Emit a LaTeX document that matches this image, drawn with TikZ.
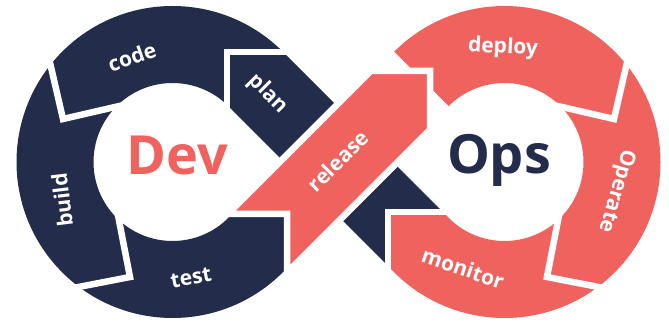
\documentclass[tikz,border=0pt]{standalone}
\usepackage{fontspec}
\setmainfont{Open Sans}
\usepackage{tikz}
\usetikzlibrary{calc}
\definecolor{navy}{HTML}{232C4A}
\definecolor{coral}{HTML}{F0625E}
\tikzset{
  gapline/.style={draw=white, line width=6.5pt, line join=miter},
  lbl/.style={text=white, font=\fontsize{21}{21}\selectfont\bfseries},
  big/.style={font=\fontsize{54}{54}\selectfont\bfseries}
}
\newcommand{\gapcut}[3]{ \draw[gapline] ($(#1)+(#2:66)$) -- (#1) -- ($(#1)+(#3:66)$);}

\begin{document}
\begin{tikzpicture}[x=1pt,y=1pt]
        \useasboundingbox (0,0) rectangle (669,324);
        \coordinate (CL) at (172.5,162);
        \coordinate (CR) at (504.5,162);
        % dev loop and the band under release
        \fill[navy] ($(CL)+(45:156)$) arc[start angle=45, end angle=315, radius=156]
            -- (287,55.9) -- (287,110) -- (232.3,110)
            -- ($(CL)+(315:79)$) arc[start angle=315, end angle=45, radius=79]
            -- (388,58.1) -- (388,112) -- (442.9,112) -- cycle;
        % ops loop
        \fill[coral] ($(CR)+(135:156)$) arc[start angle=135, end angle=-135, radius=156]
            -- (388,58.1) -- (388,112) -- (442.9,112)
            -- ($(CR)+(-135:79)$) arc[start angle=-135, end angle=135, radius=79] -- cycle;
        % release
        \filldraw[coral, gapline] (287,110) -- (227.7,110) -- (370.7,253) -- (430,253)
            -- (430,194.3) -- (287,51.3) -- cycle;
        % gaps
        \gapcut{227,272}{270}{0}
        \gapcut{63,205}{103}{13}
        \gapcut{130,47}{191}{101}
        \gapcut{614,205}{77}{167}
        \gapcut{547,47}{-11}{79}
        \gapcut{388,112}{0}{270}
        % labels
        \node[lbl, rotate=-45] (plan) at (268,230) {plan};
        \node[lbl, rotate=19] (code) at (132,267) {code};
        \node[lbl, rotate=97] (build) at (62,124) {build};
        \node[lbl, rotate=11] (test) at (191,46) {test};
        \node[lbl, rotate=45] (release) at (338,163) {release};
        \node[lbl, rotate=-3] (deploy) at (503,276) {deploy};
        \node[lbl, rotate=-106] (operate) at (616,133) {Operate};
        \node[lbl, rotate=-19] (monitor) at (463,56) {monitor};
        \node[big, text=coral] (dev) at (177,169) {Dev};
        \node[big, text=navy] (ops) at (499,164) {Ops};
    \end{tikzpicture}
\end{document}
